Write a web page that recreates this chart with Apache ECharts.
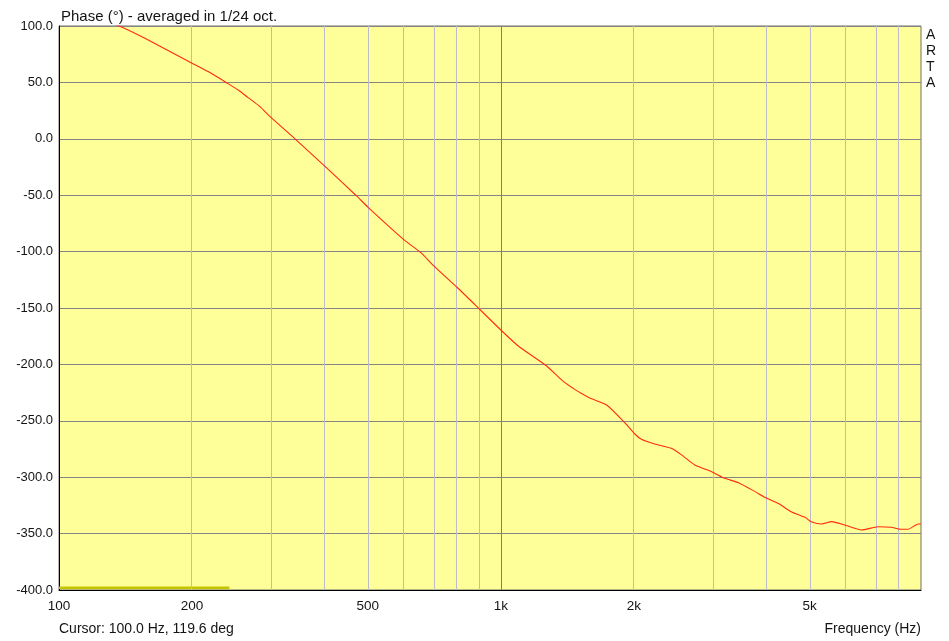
<!DOCTYPE html>
<html>
<head>
<meta charset="utf-8">
<script src="https://cdn.jsdelivr.net/npm/echarts@6/dist/echarts.min.js"></script>
<style>
html,body{margin:0;padding:0;background:#fff;}
#chart{width:949px;height:641px;}
</style>
</head>
<body>
<div id="chart"></div>
<script>
// Frequency (Hz) and phase (deg)
var freqs = [100,120,139,162,200,220,240,255,268,285,300,342,400,469,500,604,662,700,800,900,1000,1095,1269,1396,1577,1735,1907,2010,2080,2229,2430,2560,2748,3000,3210,3450,3760,4000,4240,4540,4880,5040,5320,5610,6000,6550,7140,7650,8060,8340,8800,8930];
var phases = [119.6,109,98.8,86,67,58.5,49.5,43,36.5,28.5,19.8,0,-24.5,-49.8,-60.5,-89.6,-101.5,-111.5,-132.5,-152,-169.5,-183.7,-201.4,-216.2,-229.2,-236,-251.7,-261.7,-266.4,-270.5,-274.4,-280,-289.2,-295.1,-301,-304.9,-312.8,-318.7,-323.1,-330.6,-335.6,-339.4,-341.5,-339.4,-342.4,-346.8,-343.9,-344.4,-346.2,-346.2,-341.5,-341.5];
// marker line at bottom (frequency range, level)
var markerFreqs = [100, 243];
var markerLevel = [-398, -398];
// axis settings
var fMin = 100, fMax = 8930;
var gridFreqs = [200,300,400,500,600,700,800,900,1000,2000,3000,4000,5000,6000,7000,8000];
var labelFreqs = [100,200,500,1000,2000,5000];
var labelTexts = ['100','200','500','1k','2k','5k'];

var L = Math.log10;
var curve = freqs.map(function(f,i){return [L(f), phases[i]];});
var marker = markerFreqs.map(function(f,i){return [L(f), markerLevel[i]];});

var font = '"Liberation Sans", Arial, sans-serif';
var txt = '#141414';
var chart = echarts.init(document.getElementById('chart'), null, {renderer:'canvas'});
chart.setOption({
  animation:false,
  backgroundColor:'#ffffff',
  grid:{left:59,right:28,top:26,bottom:51,show:true,backgroundColor:'#ffff99',borderColor:'#6e6e6e',borderWidth:1},
  title:[
    {text:'Phase (°) - averaged in 1/24 oct.',left:56,top:4,textStyle:{fontFamily:font,fontSize:15,fontWeight:'normal',color:txt}},
    {text:'Cursor: 100.0 Hz, 119.6 deg',left:54,top:617,textStyle:{fontFamily:font,fontSize:14,fontWeight:'normal',color:txt}},
    {text:'Frequency (Hz)',right:23,top:617,textStyle:{fontFamily:font,fontSize:14,fontWeight:'normal',color:txt}},
    {text:'A\nR\nT\nA',left:921,top:22,textStyle:{fontFamily:font,fontSize:14,fontWeight:'normal',color:txt,lineHeight:15.9}}
  ],
  xAxis:{
    type:'value',min:L(fMin),max:L(fMax),
    axisLine:{show:true,onZero:false,lineStyle:{color:'#000',width:1}},
    axisTick:{show:false},
    splitLine:{show:false},
    axisLabel:{
      customValues:labelFreqs.map(L),
      margin:9,
      fontFamily:font,fontSize:13.5,color:txt,
      formatter:function(v){
        for(var i=0;i<labelFreqs.length;i++){ if(Math.abs(L(labelFreqs[i])-v)<1e-6) return labelTexts[i]; }
        return '';
      }
    }
  },
  yAxis:{
    type:'value',min:-400,max:100,interval:50,
    axisLine:{show:true,lineStyle:{color:'#000',width:1}},
    axisTick:{show:false},
    splitLine:{show:true,lineStyle:{color:'#858585',width:1}},
    axisLabel:{margin:6,fontFamily:font,fontSize:13,color:txt,formatter:function(v){return v.toFixed(1);}}
  },
  series:[
    {
      type:'line',data:[],silent:true,
      markLine:{silent:true,symbol:'none',animation:false,label:{show:false},
        data:gridFreqs.map(function(f){return {xAxis:L(f),lineStyle:{color:f===1000?'#7e7e7e':'#bcbcc8',width:1,type:'solid'}};})
      }
    },
    {
      type:'line',data:curve,showSymbol:false,smooth:0.2,clip:true,
      lineStyle:{color:'#ff2a10',width:1.1},z:5
    },
    {
      type:'line',data:marker,showSymbol:false,
      lineStyle:{color:'#c4c400',width:2.5},z:4
    }
  ]
});
</script>
</body>
</html>
